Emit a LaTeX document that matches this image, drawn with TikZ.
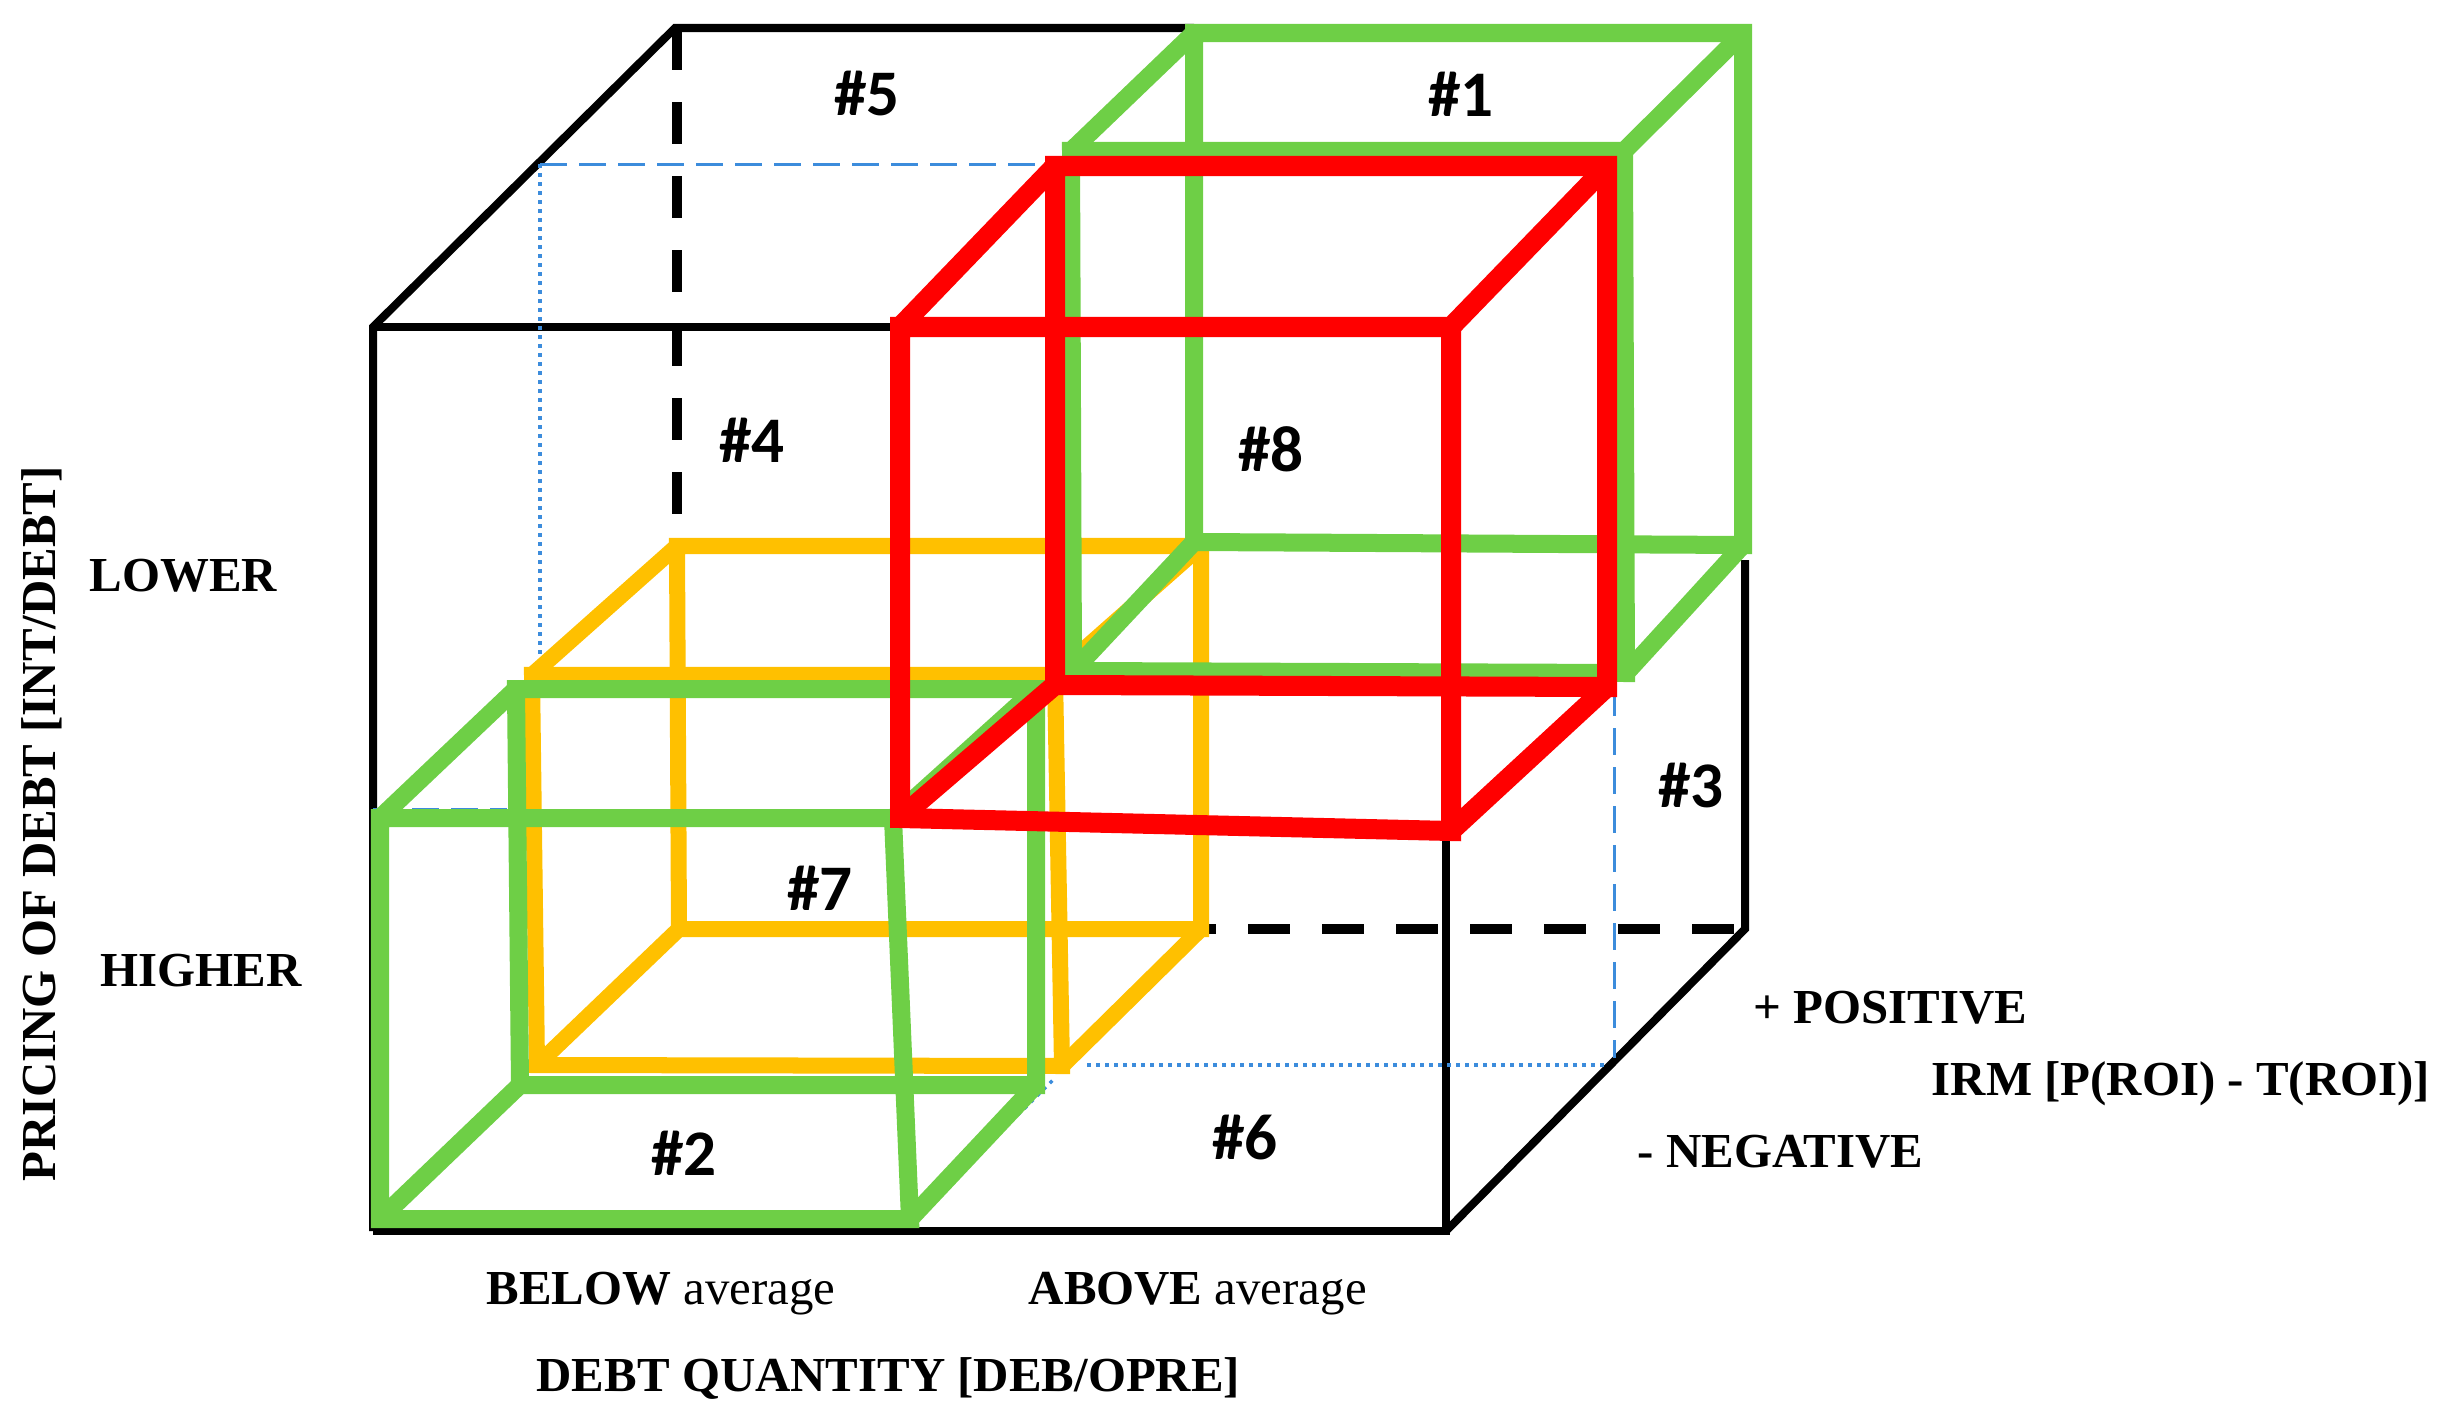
\documentclass[tikz,border=0pt]{standalone}
\usepackage{fontspec}
\setmainfont{Liberation Serif}
\newfontfamily\hashfont{Carlito}
\definecolor{cgreen}{RGB}{110,207,70}
\definecolor{corange}{RGB}{255,192,0}
\definecolor{cred}{RGB}{255,0,0}
\definecolor{cblue}{RGB}{60,140,220}
\tikzset{
  blackline/.style={line width=0.08cm, black, line join=miter},
  blackdash/.style={line width=0.1cm, black, dash pattern=on 0.42cm off 0.32cm},
  bluedash/.style={line width=0.03cm, cblue, dash pattern=on 0.27cm off 0.12cm},
  bluedot/.style={line width=0.035cm, cblue, dash pattern=on 0.035cm off 0.055cm},
  orangeline/.style={line width=0.16cm, corange, line join=miter},
  greenline/.style={line width=0.18cm, cgreen, line join=miter},
  redline/.style={line width=0.2cm, cred, line join=miter},
  cubelabel/.style={font=\hashfont\bfseries\fontsize{18.5pt}{20pt}\selectfont, inner sep=0},
  axislabel/.style={font=\bfseries\fontsize{13.9pt}{16pt}\selectfont, inner sep=0, anchor=base west},
  axisplain/.style={font=\fontsize{13.9pt}{16pt}\selectfont, inner sep=0, anchor=base west},
}
\begin{document}
\begin{tikzpicture}[x=0.01cm,y=-0.01cm]
\useasboundingbox (0,0) rectangle (2450,1418);

% ---- black outer cube corners
\coordinate (kftl) at (373,327);
\coordinate (kfti) at (900,327);
\coordinate (kfbl) at (373,1231);
\coordinate (kfbr) at (1446,1231);
\coordinate (kfrr) at (1446,831);
\coordinate (kbtl) at (675,28);
\coordinate (kbtd) at (677,28);
\coordinate (kbtg) at (1194,28);
\coordinate (kbbr) at (1745,929);
\coordinate (kbrg) at (1745,560);

% ---- blue helper points
\coordinate (b1) at (540,164);
\coordinate (b2) at (1052,164);
\coordinate (b3) at (540,662);
\coordinate (b4) at (373,809);
\coordinate (b5) at (507,809);
\coordinate (b6) at (1614,689);
\coordinate (b7) at (1614,1058);
\coordinate (b8) at (1087,1065);
\coordinate (b9) at (1605,1065);
\coordinate (b10) at (922,1210);
\coordinate (b11) at (1054,1079);

% ---- orange cube (#7)
\coordinate (obtl) at (677,546);
\coordinate (obtr) at (1201,546);
\coordinate (obbr) at (1201,929);
\coordinate (obbl) at (679,929);
\coordinate (oftl) at (532,675);
\coordinate (oftr) at (1055,675);
\coordinate (ofbr) at (1062,1066);
\coordinate (ofbl) at (537,1065);

% ---- green cube (#2)
\coordinate (gaftl) at (380,818);
\coordinate (gaftr) at (893,818);
\coordinate (gafbr) at (910,1219);
\coordinate (gafbl) at (380,1219);
\coordinate (gabtl) at (516,689);
\coordinate (gabtr) at (1036,689);
\coordinate (gabbr) at (1036,1085);
\coordinate (gabbl) at (520,1085);

% ---- green cube (#1)
\coordinate (gbbtl) at (1194,33);
\coordinate (gbbtr) at (1743,33);
\coordinate (gbbbr) at (1743,545);
\coordinate (gbbbl) at (1194,542);
\coordinate (gbftl) at (1071,151);
\coordinate (gbftr) at (1624,151);
\coordinate (gbfbr) at (1626,673);
\coordinate (gbfbl) at (1073,671);

% ---- red cube (#8)
\coordinate (rftl) at (900,327);
\coordinate (rftr) at (1451,327);
\coordinate (rfbr) at (1451,831);
\coordinate (rfbl) at (900,818);
\coordinate (rbtl) at (1055,166);
\coordinate (rbtr) at (1607,166);
\coordinate (rbbr) at (1607,687);
\coordinate (rbbl) at (1055,685);

% ---- black cube
\draw[blackline] (kfbl) -- (kftl) -- (kbtl) -- (kbtg);
\draw[blackline] (kftl) -- (kfti);
\draw[blackline] (kfbl) -- (kfbr) -- (kfrr);
\draw[blackline] (kfbr) -- (kbbr) -- (kbrg);
\draw[blackdash] (kbtd) -- (obtl);
\draw[blackdash, dash phase=0.27cm] (obbr) -- (kbbr);

% ---- blue hidden lines
\draw[bluedash] (b1) -- (b2);
\draw[bluedot] (b1) -- (b3);
\draw[bluedash] (b4) -- (b5);
\draw[bluedash] (b6) -- (b7);
\draw[bluedot] (b8) -- (b9);
\draw[bluedot] (b10) -- (b11);

% ---- orange cube
\draw[orangeline] (obtl) -- (obtr) -- (obbr) -- (obbl) -- cycle;
\draw[orangeline] (oftl) -- (oftr) -- (ofbr) -- (ofbl) -- cycle;
\draw[orangeline] (oftl) -- (obtl);
\draw[orangeline] (oftr) -- (obtr);
\draw[orangeline] (ofbl) -- (obbl);
\draw[orangeline] (ofbr) -- (obbr);

% ---- green cube #2
\draw[greenline] (gabtl) -- (gabtr) -- (gabbr) -- (gabbl) -- cycle;
\draw[greenline] (gaftl) -- (gaftr) -- (gafbr) -- (gafbl) -- cycle;
\draw[greenline] (gaftl) -- (gabtl);
\draw[greenline] (gaftr) -- (gabtr);
\draw[greenline] (gafbl) -- (gabbl);
\draw[greenline] (gafbr) -- (gabbr);

% ---- green cube #1
\draw[greenline] (gbbtl) -- (gbbtr) -- (gbbbr) -- (gbbbl) -- cycle;
\draw[greenline] (gbftl) -- (gbftr) -- (gbfbr) -- (gbfbl) -- cycle;
\draw[greenline] (gbftl) -- (gbbtl);
\draw[greenline] (gbftr) -- (gbbtr);
\draw[greenline] (gbfbl) -- (gbbbl);
\draw[greenline] (gbfbr) -- (gbbbr);

% ---- red cube
\draw[redline] (rbtl) -- (rbtr) -- (rbbr) -- (rbbl) -- cycle;
\draw[redline] (rftl) -- (rftr) -- (rfbr) -- (rfbl) -- cycle;
\draw[redline] (rftl) -- (rbtl);
\draw[redline] (rftr) -- (rbtr);
\draw[redline] (rfbl) -- (rbbl);
\draw[redline] (rfbr) -- (rbbr);

% ---- cube labels
\node[cubelabel] (l5) at (867,94) {\#5};
\node[cubelabel] (l1) at (1461,94) {\#1};
\node[cubelabel] (l4) at (752,440) {\#4};
\node[cubelabel] (l8) at (1271,449) {\#8};
\node[cubelabel] (l3) at (1691,786) {\#3};
\node[cubelabel] (l7) at (820,888) {\#7};
\node[cubelabel] (l2) at (684,1153) {\#2};
\node[cubelabel] (l6) at (1245,1138) {\#6};

% ---- axis labels
\node[axislabel] (lower) at (89,591) {LOWER};
\node[axislabel] (higher) at (100,986) {HIGHER};
\node[axislabel, rotate=90, anchor=base] (pricing) at (55,824) {PRICING OF DEBT [INT/DEBT]};
\node[axisplain] (below) at (486,1304) {\textbf{BELOW} average};
\node[axisplain] (above) at (1028,1304) {\textbf{ABOVE} average};
\node[axislabel] (quantity) at (536,1391) {DEBT QUANTITY [DEB/OPRE]};
\node[axislabel] (positive) at (1753,1023) {+ POSITIVE};
\node[axislabel] (irm) at (1931,1095) {IRM [P(ROI) - T(ROI)]};
\node[axislabel] (negative) at (1637,1167) {- NEGATIVE};
\end{tikzpicture}
\end{document}
